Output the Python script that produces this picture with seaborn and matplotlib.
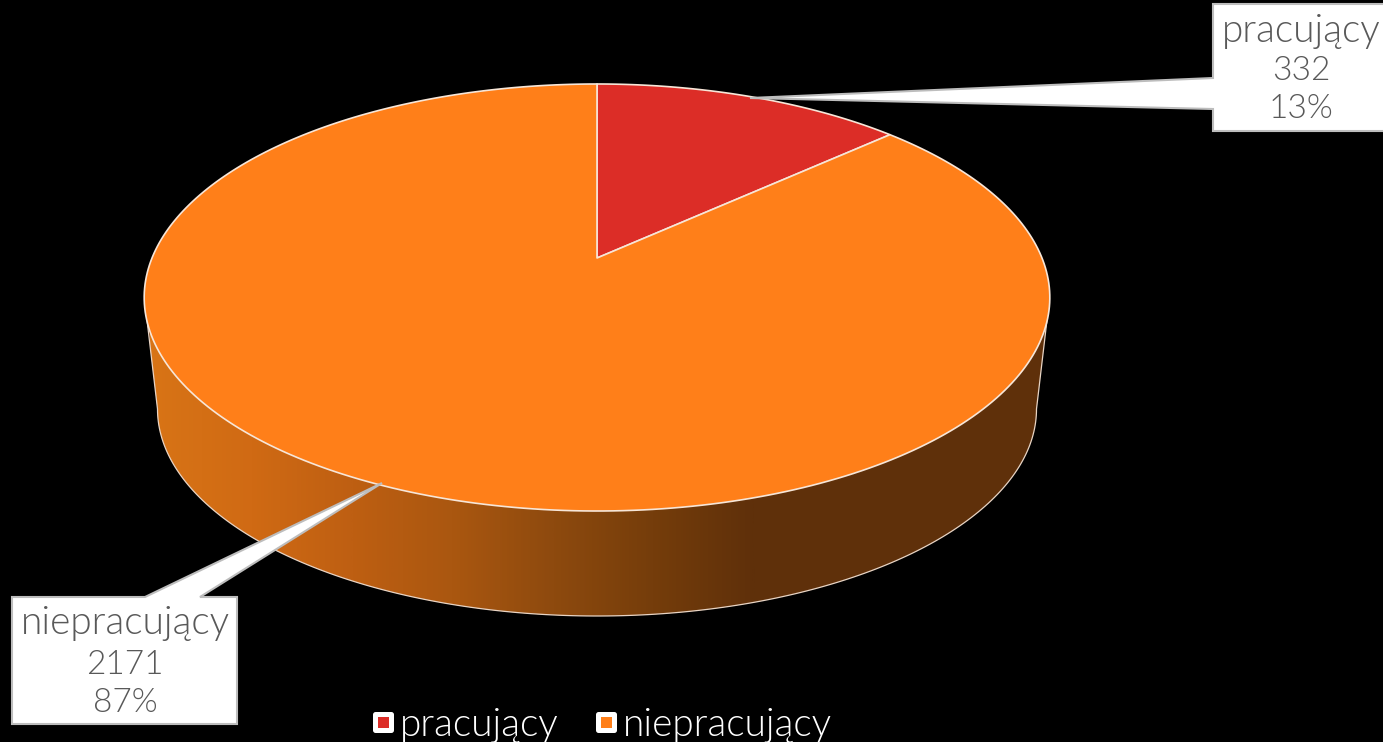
import numpy as np
import matplotlib
matplotlib.use("Agg")
import matplotlib.pyplot as plt
from matplotlib.colors import LinearSegmentedColormap
from matplotlib.lines import Line2D
from matplotlib.markers import MarkerStyle
from matplotlib.patches import Polygon
import seaborn as sns

labels = ["pracujący", "niepracujący"]
values = [332, 2171]
percents = ["13%", "87%"]
colors = ["#DC2D27", "#FF7F19"]
side_colors = ["#D87416", "#D06A14", "#BE5F12", "#AA5710", "#8E4A0E", "#753D0B", "#5F300A"]

W, H = 1383, 742

sns.set_theme(style="dark", rc={"figure.facecolor": "black", "axes.facecolor": "black"})
plt.rcParams["font.family"] = ["Lato", "DejaVu Sans"]

fig = plt.figure(figsize=(W / 100, H / 100), dpi=100)
ax = fig.add_axes([0, 0, 1, 1])

# perspective of the tilted disc, unit circle -> pixels
cx, cy = 597, 258
R, A, c = 445.0, 206.2, 0.185


def project(x, y):
    d = 1 + c * y
    return cx + R * x / d, cy - A * y / d


wedges, _ = ax.pie(values, colors=colors, startangle=90, counterclock=False)
pie_parts = []
for w in wedges:
    t = np.radians(np.linspace(w.theta1, w.theta2, 300))
    px, py = project(np.cos(t), np.sin(t))
    pie_parts.append((np.r_[cx, px], np.r_[cy, py], w.get_facecolor()))
    w.remove()

# side wall of the disc, with its gradient
t = np.linspace(0, np.pi, 200)
low_x = 597 + 439.5 * np.cos(t)
low_y = 409 + 207 * np.sin(t)
side = np.c_[np.r_[low_x, 147, 1047], np.r_[low_y, 320, 320]]
ax.add_patch(Polygon(side, closed=True, facecolor=side_colors[-1], edgecolor="none", zorder=0.9))
wall = Polygon(side, closed=True, facecolor="none", edgecolor="#e8d4c4", lw=0.9, zorder=1.5)
ax.add_patch(wall)
cmap = LinearSegmentedColormap.from_list("side", side_colors)
grad = ax.imshow(np.linspace(0, 1, 600).reshape(1, -1), cmap=cmap, aspect="auto",
                 extent=[150, 755, 620, 300], zorder=1)
grad.set_clip_path(wall)

ax.set_xlim(0, W)
ax.set_ylim(H, 0)
ax.set_aspect("auto")
ax.axis("off")

for px, py, col in pie_parts:
    ax.add_patch(Polygon(np.c_[px, py], closed=True, facecolor=col,
                         edgecolor="#f7e6d8", lw=1.2, zorder=2, joinstyle="round"))

# callouts
box1 = [(1213, 4), (1386, 4), (1386, 131), (1213, 131), (1213, 109), (750, 98), (1213, 78)]
box2 = [(12, 597), (145, 597), (382, 483), (200, 597), (237, 597), (237, 724), (12, 724)]
for b in (box1, box2):
    ax.add_patch(Polygon(b, closed=True, facecolor="white", edgecolor="#bdbdbd", lw=1.5, zorder=3))

text_x = [1301, 125]
text_y = [[31, 71, 109], [623, 665, 703]]
for x, ys, name, val, pct in zip(text_x, text_y, labels, values, percents):
    ax.text(x, ys[0], name, ha="center", va="center", color="#595959", fontsize=28,
            fontweight=300, zorder=4)
    ax.text(x, ys[1], str(val), ha="center", va="center", color="#595959", fontsize=24,
            fontweight=300, zorder=4)
    ax.text(x, ys[2], pct, ha="center", va="center", color="#595959", fontsize=24,
            fontweight=300, zorder=4)

square = MarkerStyle("s", joinstyle="round")
handles = [Line2D([], [], linestyle="none", marker=square, markersize=12.2, markerfacecolor=col,
                  markeredgecolor="white", markeredgewidth=3.6) for col in colors]
leg = ax.legend(handles, labels, loc="center", bbox_to_anchor=(602 / W, 1 - 725 / H), ncol=2,
                frameon=False, labelcolor="white", prop={"size": 28, "weight": 300},
                handlelength=0.55, handletextpad=0.15, columnspacing=0.95, borderpad=0)

fig.savefig("out.png", dpi=100, facecolor="black")
